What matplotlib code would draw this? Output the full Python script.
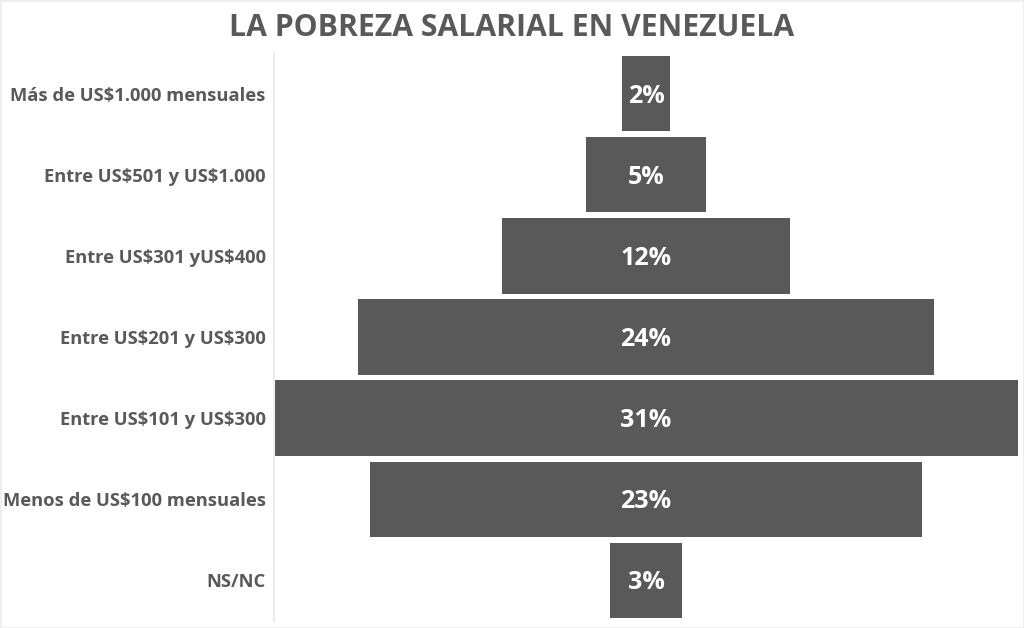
import matplotlib.pyplot as plt
import numpy as np

# datos del embudo (de arriba hacia abajo)
categorias = ["Más de US$1.000 mensuales", "Entre US$501 y US$1.000", "Entre US$301 yUS$400",
              "Entre US$201 y US$300", "Entre US$101 y US$300", "Menos de US$100 mensuales", "NS/NC"]
porcentajes = [2, 5, 12, 24, 31, 23, 3]

plt.rcParams['font.family'] = ['Open Sans', 'DejaVu Sans']
plt.rcParams['text.parse_math'] = False
gris = "#595959"

fig = plt.figure(figsize=(10.24, 6.28), dpi=100)
ax = fig.add_axes([274 / 1024, 1 - 621 / 628, 744 / 1024, 568 / 628])

y = np.arange(len(categorias))
anchos = np.array(porcentajes, dtype=float)
ax.barh(y, anchos, left=-anchos / 2, height=0.93, color=gris)

for yi, v in zip(y, porcentajes):
    ax.text(0, yi + 0.03, f"{v}%", ha="center", va="center", color="white",
            fontsize=18, fontweight="bold")

ax.set_xlim(-15.5, 15.5)
ax.set_ylim(len(categorias) - 0.5, -0.5)
ax.set_yticks(y)
ax.set_yticklabels(categorias, fontsize=13.2, fontweight="bold", color=gris)
ax.tick_params(axis="y", length=0, pad=6)
ax.set_xticks([])
for s in ["top", "right", "bottom"]:
    ax.spines[s].set_visible(False)
ax.spines["left"].set_color("#eeeeee")
ax.spines["left"].set_linewidth(1.5)

fig.text(512 / 1024, 1 - 28 / 628, "LA POBREZA SALARIAL EN VENEZUELA", ha="center", va="center",
         fontsize=21.7, fontweight="bold", color=gris)

# borde ligero de la figura
fig.patches.append(plt.Rectangle((0, 0), 1, 1, transform=fig.transFigure, fill=False,
                                 edgecolor="#eeeeee", linewidth=2))

fig.savefig("out.png", dpi=100)
